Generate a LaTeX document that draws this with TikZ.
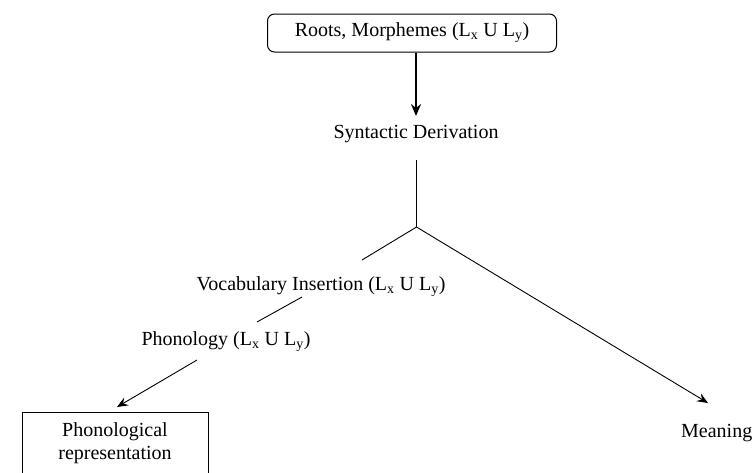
\documentclass[tikz,border=0pt]{standalone}
\usepackage{fontspec}
\setmainfont{Liberation Serif}
\usetikzlibrary{arrows.meta}
\newcommand{\LxLy}{(L\textsubscript{x} U L\textsubscript{y})}
\begin{document}
\begin{tikzpicture}[x=1pt,y=-1pt,
  every node/.style={font=\fontsize{20}{23}\selectfont},
  lbl/.style={inner sep=0pt, anchor=base},
  conn/.style={line width=0.9pt},
  arr/.style={line width=0.9pt, -{Stealth[length=11pt,width=9pt,inset=4pt]}}]
\clip (0,0) rectangle (752,472);
\fill[white] (0,0) rectangle (752,472);
\node (top) [draw, line width=1pt, rounded corners=7pt, minimum width=289pt, minimum height=38pt, inner sep=0pt] at (412,33) {Roots, Morphemes \LxLy};
\node (synt) [lbl] at (416,138) {Syntactic Derivation};
\node (vocab) [lbl] at (321,290) {Vocabulary Insertion \LxLy};
\node (phon) [lbl] at (226,345) {Phonology \LxLy};
\node (phonrep) [draw, line width=0.8pt, anchor=north, minimum width=186pt, inner ysep=10pt, align=center] at (115,412) {Phonological\\representation\rule[-40pt]{0pt}{0pt}};
\node (meaning) [inner sep=0pt, anchor=base west] at (681,437) {Meaning};
\coordinate (synttop) at (416,52);
\coordinate (syntin) at (416,116);
\coordinate (syntbot) at (416.5,160);
\coordinate (branch) at (416.5,227);
\coordinate (vocabup) at (362,260);
\coordinate (vocablo) at (302,297);
\coordinate (phonup) at (257,322);
\coordinate (phonlo) at (197,360);
\coordinate (phonrepin) at (117,407);
\coordinate (meantip) at (708,403);
\draw[line width=2pt, -{Stealth[length=12pt,width=10pt,inset=4pt]}] (top.south -| synttop) -- (syntin);
\draw[conn] (syntbot) -- (branch) -- (vocabup);
\draw[arr] (branch) -- (meantip);
\draw[conn] (vocablo) -- (phonup);
\draw[arr] (phonlo) -- (phonrepin);
\end{tikzpicture}
\end{document}
